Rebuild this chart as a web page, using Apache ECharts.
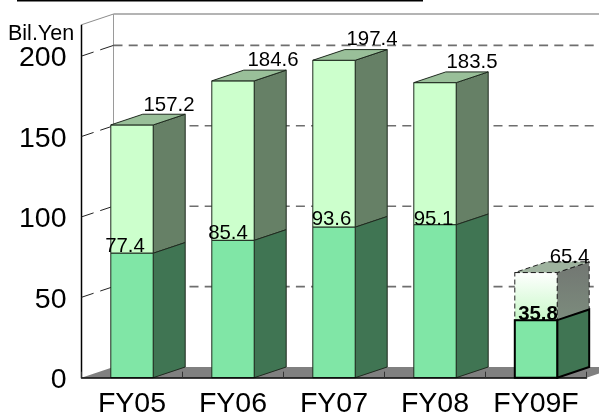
<!DOCTYPE html>
<html>
<head>
<meta charset="utf-8">
<style>
  html, body { margin: 0; padding: 0; background: #fff; }
  #chart { width: 599px; height: 414px; }
</style>
<script src="https://cdn.jsdelivr.net/npm/echarts@6/dist/echarts.min.js"></script>
</head>
<body>
<div id="chart"></div>
<script>
// Fiscal years and billions of yen
const categories = ['FY05', 'FY06', 'FY07', 'FY08', 'FY09F'];
const totalValues = [157.2, 184.6, 197.4, 183.5, 65.4];
const lowerValues = [77.4, 85.4, 93.6, 95.1, 35.8];
const gridValues = [50, 100, 150, 200];
const forecastIndex = 4;
const unitLabel = 'Bil.Yen';

// Oblique projection used for the box look
const DEPTH_X = 32, DEPTH_Y = -10.7, BAR_W = 42.4, WALL_TOP = 219.5;
const FONT = '"Liberation Sans", Arial, sans-serif';

// Nudges that keep value labels clear of neighbouring edges
const totalNudge = [[37, 1.1], [40, 0], [38, -0.3], [37, 0.3], [33.5, 5.5]];
const lowerNudge = [[-7, 3], [-5, 3], [-2.5, 2], [-1.5, 4.5], [2, 4]];

const line = (x1, y1, x2, y2, style) => ({
  type: 'line', shape: { x1, y1, x2, y2 }, style: Object.assign({ fill: null }, style)
});
const poly = (points, style) => ({ type: 'polygon', shape: { points }, style });
const vGrad = (top, bottom) => new echarts.graphic.LinearGradient(0, 0, 0, 1, [
  { offset: 0, color: top }, { offset: 1, color: bottom }
]);

// Side wall, back wall, floor and their dashed grid lines
function renderFrame(params, api) {
  const [x0, y0] = api.coord([categories[0], 0]);
  const size = api.size([1, 0])[0];
  const left = x0 - size / 2;
  const right = left + size * categories.length;
  const yOf = (v) => api.coord([categories[0], v])[1];
  const backX = left + DEPTH_X;
  const yTop = yOf(WALL_TOP);
  const kids = [
    poly([[left, y0], [right, y0], [right + DEPTH_X, y0 + DEPTH_Y], [backX, y0 + DEPTH_Y]],
      { fill: '#808080' }),
    line(left, yTop, backX, yTop + DEPTH_Y, { stroke: '#8c8c8c', lineWidth: 1 }),
    line(backX, yTop + DEPTH_Y, 640, yTop + DEPTH_Y, { stroke: '#b4b4b4', lineWidth: 2 }),
    line(backX, yTop + DEPTH_Y, backX, y0 + DEPTH_Y, { stroke: '#9a9a9a', lineWidth: 1 }),
    line(left, yTop, left, y0, { stroke: '#000', lineWidth: 1.5 })
  ];
  gridValues.forEach((v) => {
    const y = yOf(v);
    kids.push(line(backX, y + DEPTH_Y, 640, y + DEPTH_Y,
      { stroke: '#6e6e6e', lineWidth: 1.6, lineDash: [9, 6.2] }));
    kids.push(line(backX, y + DEPTH_Y, left, y,
      { stroke: '#222', lineWidth: 1, lineDash: [14, 7] }));
  });
  return { type: 'group', children: kids };
}

// One extruded section of a bar: front, side and optional top face
function box(xL, yLow, yHigh, fills, stroke, withTop) {
  const xR = xL + BAR_W;
  const parts = [
    poly([[xR, yLow], [xR + DEPTH_X, yLow + DEPTH_Y], [xR + DEPTH_X, yHigh + DEPTH_Y], [xR, yHigh]],
      Object.assign({ fill: fills.side }, stroke)),
    { type: 'rect', shape: { x: xL, y: yHigh, width: BAR_W, height: yLow - yHigh },
      style: Object.assign({ fill: fills.front }, stroke) }
  ];
  if (withTop) {
    parts.push(poly([[xL, yHigh], [xR, yHigh], [xR + DEPTH_X, yHigh + DEPTH_Y], [xL + DEPTH_X, yHigh + DEPTH_Y]],
      Object.assign({ fill: fills.top }, stroke)));
  }
  return parts;
}

function renderBar(params, api) {
  const i = api.value(0);
  const total = api.value(1), lower = api.value(2);
  const [xc, y0] = api.coord([i, 0]);
  const yLow = api.coord([i, lower])[1];
  const yTotal = api.coord([i, total])[1];
  const xL = xc - BAR_W / 2;
  const forecast = i === forecastIndex;

  const upperFills = forecast
    ? { front: vGrad('#ffffff', '#c8f8c8'), side: vGrad('#727672', '#7c8c7d'), top: '#9fb39f' }
    : { front: '#ccffcc', side: '#668066', top: '#99bf99' };
  const upperStroke = forecast
    ? { stroke: '#222', lineWidth: 1, lineDash: [5, 3] }
    : { stroke: '#1f2a1f', lineWidth: 1 };
  const lowerFills = { front: '#80e6a6', side: '#407553' };
  const lowerStroke = forecast
    ? { stroke: '#000', lineWidth: 2 }
    : { stroke: '#1f2a1f', lineWidth: 1 };

  const totalText = {
    type: 'text',
    style: {
      text: total.toFixed(1), x: xc + totalNudge[i][0], y: yTotal + DEPTH_Y + totalNudge[i][1],
      align: 'center', verticalAlign: 'bottom', font: '20.4px ' + FONT, fill: '#000'
    }
  };
  const lowerText = {
    type: 'text',
    style: {
      text: lower.toFixed(1), x: xc + lowerNudge[i][0], y: yLow + lowerNudge[i][1],
      align: 'center', verticalAlign: 'bottom',
      font: (forecast ? 'bold ' : '') + '20.4px ' + FONT, fill: '#000'
    }
  };
  return {
    type: 'group',
    children: [
      ...box(xL, yLow, yTotal, upperFills, upperStroke, true),
      ...box(xL, y0, yLow, lowerFills, lowerStroke, false),
      lowerText,
      totalText
    ]
  };
}

const chart = echarts.init(document.getElementById('chart'), null, { renderer: 'canvas' });
chart.setOption({
  animation: false,
  backgroundColor: '#fff',
  textStyle: { fontFamily: FONT },
  grid: { left: 81.5, right: 12.5, top: 56.1, bottom: 36.3, containLabel: false, outerBoundsMode: 'none' },
  xAxis: {
    type: 'category',
    data: categories,
    z: 6,
    axisLine: { lineStyle: { color: '#000', width: 1.5 } },
    axisTick: { show: true, inside: true, length: 6, lineStyle: { color: '#333', width: 1 } },
    axisLabel: { fontSize: 28.5, color: '#000', margin: 12, interval: 0 }
  },
  yAxis: {
    type: 'value', min: 0, max: 200, interval: 50,
    axisLine: { show: false },
    axisTick: { show: false },
    splitLine: { show: false },
    axisLabel: { fontSize: 28.5, color: '#000', margin: 13, verticalAlign: 'top', lineHeight: 5, padding: [0, 2, 0, 0] }
  },
  graphic: [
    { type: 'rect', left: 17, top: 0, shape: { width: 406, height: 1.6 }, style: { fill: '#000' } },
    { type: 'text', left: 8, top: 23, style: { text: unitLabel, font: '21.5px ' + FONT, fill: '#000' } }
  ],
  series: [
    { type: 'custom', name: 'frame', z: 1, silent: true, clip: false, renderItem: renderFrame, data: [[0]] },
    {
      type: 'custom', name: 'sales', z: 3, silent: true, clip: false, renderItem: renderBar,
      encode: { x: 0, y: 1 },
      data: categories.map((c, i) => [i, totalValues[i], lowerValues[i]])
    }
  ]
});
</script>
</body>
</html>
